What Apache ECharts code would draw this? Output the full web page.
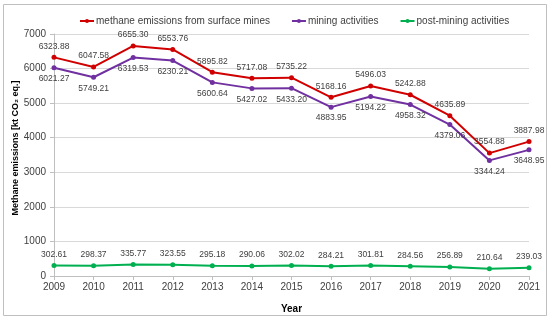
<!DOCTYPE html>
<html><head><meta charset="utf-8">
<script src="https://cdn.jsdelivr.net/npm/echarts@6/dist/echarts.min.js"></script>
<style>html,body{margin:0;padding:0;background:#fff}#c{width:550px;height:321px}</style>
</head><body><div id="c"></div>
<script>
var years = ['2009','2010','2011','2012','2013','2014','2015','2016','2017','2018','2019','2020','2021'];
var surfaceMines = [6323.88,6047.58,6655.30,6553.76,5895.82,5717.08,5735.22,5168.16,5496.03,5242.88,4635.89,3554.88,3887.98];
var miningActivities = [6021.27,5749.21,6319.53,6230.21,5600.64,5427.02,5433.20,4883.95,5194.22,4958.32,4379.06,3344.24,3648.95];
var postMining = [302.61,298.37,335.77,323.55,295.18,290.06,302.02,284.21,301.81,284.56,256.89,210.64,239.03];
var seriesNames = ['methane emissions from surface mines','mining activities','post-mining activities'];

var chart = echarts.init(document.getElementById('c'));
var labelFont = {fontFamily:'"Liberation Sans Narrow","Arial Narrow",sans-serif', fontSize:8.5, color:'#404040'};
function mk(name, data, color, pos){
  return {
    name:name, type:'line', data:data, symbol:'circle', symbolSize:5,
    lineStyle:{color:color, width:2}, itemStyle:{color:color},
    label:Object.assign({show:true, position:pos, distance:4,
      formatter:function(p){return p.value.toFixed(2);}}, labelFont),
    emphasis:{disabled:true}, animation:false
  };
}
chart.setOption({
  animation:false,
  graphic:[{type:'rect', shape:{x:3.5,y:4.5,width:543,height:311}, style:{fill:'none', stroke:'#bfbfbf', lineWidth:1}, silent:true}],
  legend:{
    top:11, left:74, itemWidth:14, itemHeight:5, itemGap:21,
    textStyle:{fontFamily:'"Liberation Sans",Arial,sans-serif', fontSize:10, color:'#404040', padding:[0,0,0,-3]},
    data:seriesNames
  },
  grid:{left:54, right:21, top:34, bottom:45, containLabel:false, outerBoundsMode:'none'},
  xAxis:{
    type:'category', data:years, boundaryGap:false,
    name:'Year', nameLocation:'middle', nameGap:28, nameMoveOverlap:false,
    nameTextStyle:{fontFamily:'"Liberation Sans",Arial,sans-serif', fontSize:10, fontWeight:'bold', color:'#000'},
    axisLine:{lineStyle:{color:'#bfbfbf'}},
    axisTick:{show:true, length:4, lineStyle:{color:'#bfbfbf'}},
    axisLabel:{fontFamily:'"Liberation Sans",Arial,sans-serif', fontSize:10, color:'#404040', margin:6},
    splitLine:{show:false}
  },
  yAxis:{
    type:'value', min:0, max:7000, interval:1000,
    name:'Methane emissions [kt CO₂ eq.]', nameLocation:'middle', nameGap:34, nameMoveOverlap:false,
    nameTextStyle:{fontFamily:'"Liberation Sans",Arial,sans-serif', fontSize:9, fontWeight:'bold', color:'#000', padding:[0,0,0,14]},
    axisLine:{show:true, lineStyle:{color:'#bfbfbf'}},
    axisTick:{show:true, length:4, lineStyle:{color:'#bfbfbf'}},
    axisLabel:{fontFamily:'"Liberation Sans",Arial,sans-serif', fontSize:10, color:'#404040', margin:8,
      formatter:function(v){return String(v);}},
    splitLine:{lineStyle:{color:'#d9d9d9'}}
  },
  series:[
    mk(seriesNames[0], surfaceMines, '#d00000', 'top'),
    mk(seriesNames[1], miningActivities, '#7030a0', 'bottom'),
    mk(seriesNames[2], postMining, '#00b050', 'top')
  ]
});
</script></body></html>
